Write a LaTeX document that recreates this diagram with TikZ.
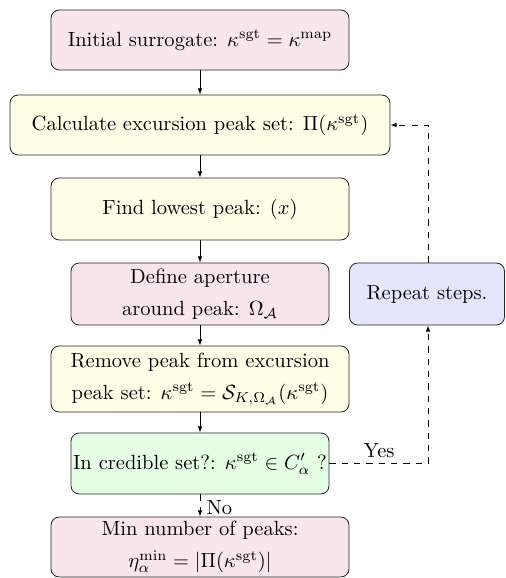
\documentclass[tikz,border=0pt]{standalone}
\usetikzlibrary{arrows.meta}
\begin{document}
\begin{tikzpicture}[x=0.487pt,y=-0.487pt,
  box/.style={draw=black!85, rounded corners=4pt, align=center, inner sep=0pt, line width=0.4pt},
  pinkbox/.style={box, fill=purple!10},
  yellowbox/.style={box, fill=yellow!10},
  greenbox/.style={box, fill=green!10},
  bluebox/.style={box, fill=blue!10},
  arr/.style={-{Latex[length=3pt,width=2.2pt]}, line width=0.4pt},
  darr/.style={arr, dashed}]
\useasboundingbox (0,0) rectangle (505,578);
\node[pinkbox, minimum width=298*0.487pt, minimum height=60*0.487pt] (init) at (200,40)
  {Initial surrogate: $\kappa^{\mathrm{sgt}} = \kappa^{\mathrm{map}}$};
\node[yellowbox, minimum width=380*0.487pt, minimum height=60*0.487pt] (calc) at (200,125)
  {Calculate excursion peak set: $\Pi(\kappa^{\mathrm{sgt}})$};
\node[yellowbox, minimum width=298*0.487pt, minimum height=62*0.487pt] (find) at (200,209)
  {Find lowest peak: $(x)$};
\node[pinkbox, minimum width=258*0.487pt, minimum height=62*0.487pt] (aper) at (200,294)
  {Define aperture\\[3.5pt] around peak: $\Omega_{\mathcal{A}}$};
\node[bluebox, minimum width=155*0.487pt, minimum height=62*0.487pt] (rep) at (427,294)
  {Repeat steps.};
\node[yellowbox, minimum width=298*0.487pt, minimum height=66*0.487pt] (rem) at (200,379)
  {Remove peak from excursion\\[3.5pt] peak set: $\kappa^{\mathrm{sgt}} = \mathcal{S}_{K,\Omega_{\mathcal{A}}}(\kappa^{\mathrm{sgt}})$};
\node[greenbox, minimum width=258*0.487pt, minimum height=61*0.487pt] (cred) at (200,463.5)
  {In credible set?: $\kappa^{\mathrm{sgt}} \in C'_{\alpha}$ ?};
\node[pinkbox, minimum width=298*0.487pt, minimum height=60*0.487pt] (minp) at (200,547)
  {Min number of peaks:\\[3.5pt] $\eta_{\alpha}^{\mathrm{min}} = |\Pi(\kappa^{\mathrm{sgt}})|$};
\draw[arr] (init) -- (calc);
\draw[arr] (calc) -- (find);
\draw[arr] (find) -- (aper);
\draw[arr] (aper) -- (rem);
\draw[arr] (rem) -- (cred);
\draw[darr] (cred) -- node[right, inner sep=2pt, xshift=1pt, yshift=-1pt] (no) {No} (minp);
\coordinate (yc) at (428,463.5);
\draw[darr] (cred.east) -- (yc) -- (rep.south -| yc);
\node (yes) at (379,451) {Yes};
\coordinate (tc) at (428,125);
\draw[darr] (rep.north -| tc) -- (tc) -- (calc.east);
\end{tikzpicture}
\end{document}
